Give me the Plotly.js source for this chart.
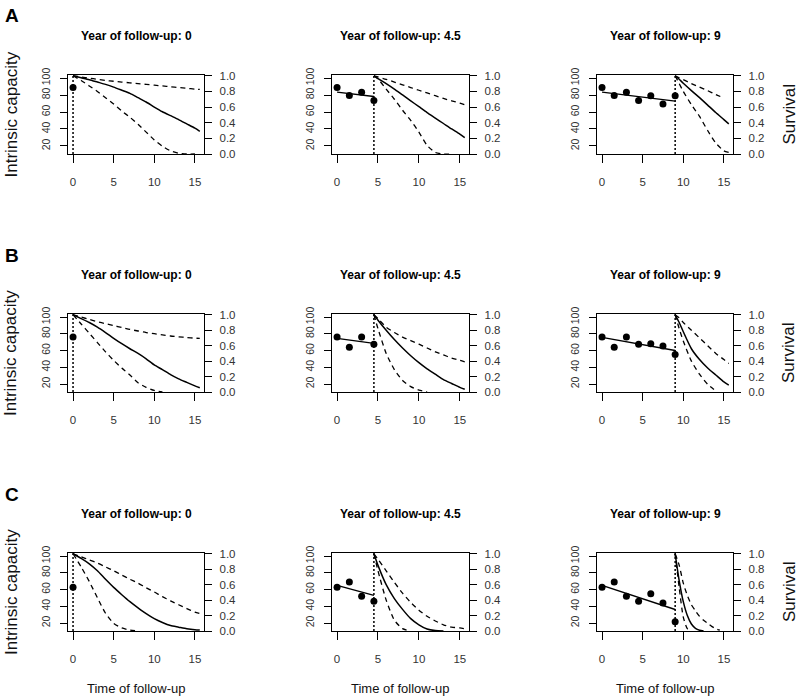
<!DOCTYPE html>
<html><head><meta charset="utf-8">
<script src="https://cdn.plot.ly/plotly-3.0.1.min.js"></script>
<style>html,body{margin:0;padding:0;background:#fff}#chart{width:799px;height:699px}</style>
</head><body><div id="chart"></div>
<script>
// ---------------- DATA ----------------
const rowLabels = ['A', 'B', 'C'];
const landmarks = [0, 4.5, 9];
const panelTitles = ['Year of follow-up: 0', 'Year of follow-up: 4.5', 'Year of follow-up: 9'];
const xTickVals = [0, 5, 10, 15];
const icTickVals = [20, 40, 60, 80, 100];
const survTickVals = [0, 0.2, 0.4, 0.6, 0.8, 1.0];
const survTickText = ['0.0', '0.2', '0.4', '0.6', '0.8', '1.0'];

// observed intrinsic capacity (left axis)
const obsTimes = [0, 1.5, 3, 4.5, 6, 7.5, 9];
const icA = [89, 79.5, 83.4, 73.6, 79, 69.3, 79];
const icB = [76, 63.9, 76, 67.5, 68.2, 65.5, 55.3];
const icC = [62.6, 68.9, 51.9, 46, 55, 44, 21.6];

// fitted IC trajectory endpoints [start, end] for landmarks 4.5 and 9
const fitA45 = [83.4, 78.3], fitA9 = [83.4, 72.8];
const fitB45 = [74.5, 68.6], fitB9 = [75.7, 60];
const fitC45 = [64.9, 53.1], fitC9 = [64.9, 36.2];

// survival time grids
const grid0 = [0, 1, 2, 3, 4, 5, 6, 7, 8, 9, 10, 11, 12, 13, 14, 15, 15.6];
const grid45 = [4.5, 5, 6, 7, 8, 9, 10, 11, 12, 13, 14, 15, 15.6];
const grid9 = [9, 9.5, 10, 11, 12, 13, 14, 15, 15.6];
const grid9C = [9, 9.5, 10, 10.5, 11, 11.5, 12, 12.5, 13, 13.5, 14, 14.5];

// survival estimates (right axis): solid, upper, lower
const survA1 = [1, 0.975, 0.95, 0.92, 0.89, 0.855, 0.815, 0.775, 0.72, 0.665, 0.6, 0.54, 0.49, 0.44, 0.385, 0.33, 0.29];
const upA1 = [1, 0.985, 0.97, 0.955, 0.94, 0.93, 0.92, 0.91, 0.9, 0.89, 0.88, 0.87, 0.86, 0.85, 0.84, 0.83, 0.825];
const loA1 = [1, 0.94, 0.87, 0.8, 0.72, 0.64, 0.55, 0.47, 0.38, 0.28, 0.18, 0.1, 0.04, 0.01, 0, 0];
const survA2 = [1, 0.965, 0.9, 0.83, 0.755, 0.68, 0.605, 0.53, 0.46, 0.39, 0.32, 0.255, 0.21];
const upA2 = [1, 0.985, 0.955, 0.92, 0.885, 0.85, 0.815, 0.78, 0.745, 0.71, 0.68, 0.65, 0.63];
const loA2 = [1, 0.96, 0.83, 0.7, 0.56, 0.43, 0.28, 0.11, 0.02, 0, 0];
const survA3 = [1, 0.955, 0.905, 0.81, 0.72, 0.625, 0.53, 0.44, 0.385];
const upA3 = [1, 0.975, 0.95, 0.9, 0.855, 0.81, 0.76, 0.715];
const loA3 = [1, 0.9, 0.8, 0.63, 0.48, 0.3, 0.14, 0.04, 0.02];

const survB1 = [1, 0.95, 0.9, 0.84, 0.77, 0.695, 0.625, 0.56, 0.5, 0.43, 0.35, 0.29, 0.225, 0.17, 0.125, 0.08, 0.055];
const upB1 = [1, 0.97, 0.94, 0.91, 0.885, 0.86, 0.835, 0.81, 0.79, 0.77, 0.755, 0.74, 0.725, 0.715, 0.705, 0.697, 0.694];
const loB1 = [1, 0.88, 0.76, 0.64, 0.52, 0.41, 0.31, 0.22, 0.12, 0.06, 0.02, 0];
const survB2 = [1, 0.93, 0.8, 0.68, 0.57, 0.47, 0.38, 0.3, 0.23, 0.16, 0.11, 0.06, 0.035];
const upB2 = [1, 0.95, 0.84, 0.77, 0.71, 0.665, 0.62, 0.57, 0.52, 0.48, 0.44, 0.41, 0.39];
const loB2 = [1, 0.82, 0.5, 0.29, 0.15, 0.07, 0.025, 0];
const survB3 = [1, 0.9, 0.78, 0.56, 0.42, 0.31, 0.22, 0.13, 0.09];
const upB3 = [1, 0.96, 0.9, 0.8, 0.7, 0.6, 0.5, 0.42, 0.37];
const loB3 = [1, 0.82, 0.66, 0.4, 0.23, 0.1, 0.015];

const survC1 = [1, 0.94, 0.87, 0.78, 0.67, 0.565, 0.47, 0.38, 0.3, 0.225, 0.16, 0.11, 0.07, 0.05, 0.03, 0.017, 0.012];
const upC1 = [1, 0.96, 0.92, 0.88, 0.83, 0.78, 0.725, 0.67, 0.62, 0.56, 0.505, 0.445, 0.39, 0.34, 0.29, 0.245, 0.225];
const loC1 = [1, 0.83, 0.64, 0.43, 0.23, 0.1, 0.04, 0.012, 0];
const survC2 = [1, 0.85, 0.6, 0.42, 0.28, 0.16, 0.08, 0.025, 0.005, 0];
const upC2 = [1, 0.93, 0.78, 0.63, 0.49, 0.37, 0.27, 0.19, 0.13, 0.08, 0.05, 0.04, 0.03];
const loC2 = [1, 0.78, 0.4, 0.14, 0.03, 0];
const survC3 = [1, 0.65, 0.38, 0.2, 0.09, 0.035, 0.01, 0];
const upC3 = [1, 0.85, 0.62, 0.46, 0.34, 0.26, 0.19, 0.14, 0.1, 0.06, 0.03, 0.01];
const loC3 = [1, 0.56, 0.18, 0.03, 0];

// ---------------- PANEL ASSEMBLY ----------------
const icRows = [icA, icB, icC];
const fitRows = [[null, fitA45, fitA9], [null, fitB45, fitB9], [null, fitC45, fitC9]];
const gridRows = [[grid0, grid45, grid9], [grid0, grid45, grid9], [grid0, grid45, grid9C]];
const survRows = [[survA1, survA2, survA3], [survB1, survB2, survB3], [survC1, survC2, survC3]];
const upRows = [[upA1, upA2, upA3], [upB1, upB2, upB3], [upC1, upC2, upC3]];
const loRows = [[loA1, loA2, loA3], [loB1, loB2, loB3], [loC1, loC2, loC3]];

// ---------------- LAYOUT CONSTANTS ----------------
const W = 799, H = 699;
const colPx = [[68, 204], [332, 469], [597, 733]];
const rowPx = [[75, 154], [314, 392], [553, 631]];
const FONT = 'Liberation Sans, Arial, Helvetica, sans-serif';
const tickFontColor = '#333';

const traces = [];
const shapes = [];
const annotations = [];
const layout = {
  width: W, height: H,
  margin: {l: 0, r: 0, t: 0, b: 0},
  paper_bgcolor: '#fff', plot_bgcolor: '#fff',
  showlegend: false,
  font: {family: FONT, color: '#000'}
};

for (let r = 0; r < 3; r++) {
  for (let c = 0; c < 3; c++) {
    const idx = r * 3 + c + 1;
    const sfx = idx === 1 ? '' : String(idx);
    const xa = 'x' + sfx, ya = 'y' + sfx, yb = 'y' + (idx + 9);
    const lm = landmarks[c];
    const xd = [colPx[c][0] / W, colPx[c][1] / W];
    const yd = [1 - rowPx[r][1] / H, 1 - rowPx[r][0] / H];

    layout['xaxis' + sfx] = {
      domain: xd, anchor: ya, range: [-0.62, 16.12],
      tickmode: 'array', tickvals: xTickVals,
      ticks: 'outside', ticklen: 8, tickwidth: 1, tickcolor: '#000',
      showline: true, linecolor: '#000', linewidth: 1.2, mirror: true,
      showgrid: false, zeroline: false, ticklabelstandoff: 9,
      tickfont: {family: FONT, size: 11.5, color: tickFontColor}
    };
    layout['yaxis' + sfx] = {
      domain: yd, anchor: xa, range: [10.5, 103.6],
      tickmode: 'array', tickvals: icTickVals, tickangle: -90,
      ticks: 'outside', ticklen: 7, tickwidth: 1, tickcolor: '#000',
      showline: true, linecolor: '#000', linewidth: 1.2, mirror: true,
      showgrid: false, zeroline: false, ticklabelstandoff: 6,
      tickfont: {family: FONT, size: 10.5, color: tickFontColor}
    };
    layout['yaxis' + (idx + 9)] = {
      overlaying: ya, anchor: xa, side: 'right', range: [0, 1.01],
      tickmode: 'array', tickvals: survTickVals, ticktext: survTickText,
      ticks: 'outside', ticklen: 7, tickwidth: 1, tickcolor: '#000',
      showline: true, linecolor: '#000', linewidth: 1.2,
      showgrid: false, zeroline: false, ticklabelstandoff: 5,
      tickfont: {family: FONT, size: 11.5, color: tickFontColor}
    };

    // observed IC points up to landmark
    const n = obsTimes.filter(t => t <= lm + 1e-9).length;
    traces.push({
      type: 'scatter', mode: 'markers', xaxis: xa, yaxis: ya,
      x: obsTimes.slice(0, n), y: icRows[r].slice(0, n),
      marker: {color: '#000', size: 7}, cliponaxis: false
    });
    // fitted IC trajectory
    const fit = fitRows[r][c];
    if (fit) {
      traces.push({
        type: 'scatter', mode: 'lines', xaxis: xa, yaxis: ya,
        x: [0, lm], y: fit, line: {color: '#000', width: 1.4}
      });
    }
    // survival curves
    const g = gridRows[r][c];
    [[upRows[r][c], '5px,4px', 1.3], [loRows[r][c], '5px,4px', 1.3], [survRows[r][c], 'solid', 1.5]].forEach(([vals, dash, w]) => {
      traces.push({
        type: 'scatter', mode: 'lines', xaxis: xa, yaxis: yb,
        x: g.slice(0, vals.length), y: vals,
        line: {color: '#000', width: w, dash: dash, shape: 'spline', smoothing: 0.6}
      });
    });
    // dotted landmark line
    shapes.push({
      type: 'line', xref: xa, yref: ya + ' domain', x0: lm, x1: lm, y0: 0, y1: 1,
      line: {color: '#000', width: 1.5, dash: '2px,2px'}
    });
    // panel title
    annotations.push({
      xref: 'paper', yref: 'paper', x: (colPx[c][0] + colPx[c][1]) / 2 / W, y: 1 - (rowPx[r][0] - 39) / H,
      text: '<b>' + panelTitles[c] + '</b>', showarrow: false, xanchor: 'center', yanchor: 'middle',
      font: {family: FONT, size: 12, color: '#000'}
    });
  }
  const rowMid = 1 - (rowPx[r][0] + rowPx[r][1]) / 2 / H;
  annotations.push({
    xref: 'paper', yref: 'paper', x: 12 / W, y: 1 - (rowPx[r][0] - 59) / H,
    text: '<b>' + rowLabels[r] + '</b>', showarrow: false, xanchor: 'center', yanchor: 'middle',
    font: {family: FONT, size: 19, color: '#000'}
  });
  annotations.push({
    xref: 'paper', yref: 'paper', x: 11 / W, y: rowMid, textangle: -90,
    text: 'Intrinsic capacity', showarrow: false, xanchor: 'center', yanchor: 'middle',
    font: {family: FONT, size: 17, color: '#111'}
  });
  annotations.push({
    xref: 'paper', yref: 'paper', x: 789 / W, y: rowMid, textangle: -90,
    text: 'Survival', showarrow: false, xanchor: 'center', yanchor: 'middle',
    font: {family: FONT, size: 17, color: '#111'}
  });
}
for (let c = 0; c < 3; c++) {
  annotations.push({
    xref: 'paper', yref: 'paper', x: (colPx[c][0] + colPx[c][1]) / 2 / W, y: 1 - 688 / H,
    text: 'Time of follow-up', showarrow: false, xanchor: 'center', yanchor: 'middle',
    font: {family: FONT, size: 13, color: '#111'}
  });
}
layout.shapes = shapes;
layout.annotations = annotations;

Plotly.newPlot('chart', traces, layout, {displayModeBar: false, staticPlot: true});
</script>
</body></html>
